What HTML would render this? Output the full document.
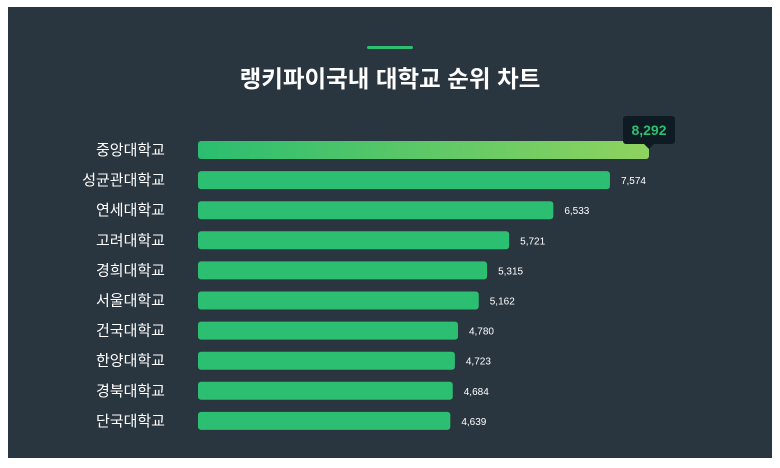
<!DOCTYPE html>
<html><head><meta charset="utf-8"><style>
body{margin:0;background:#fff;width:780px;height:468px;overflow:hidden}
svg{display:block}
text{font-family:"Liberation Sans","Noto Sans CJK KR",sans-serif}
</style></head><body>
<svg id="c" width="780" height="468">
<defs><linearGradient id="g" x1="0" x2="1"><stop offset="0" stop-color="#2bbd70"/><stop offset="1" stop-color="#8fd35f"/></linearGradient></defs>
<rect x="8" y="7" width="764" height="451" fill="#29353f"/>
<rect x="367" y="46" width="46" height="3" rx="1.5" fill="#2cbf72"/>
<text x="390" y="87" text-anchor="middle" fill="#fff" font-size="23.5" font-weight="bold">랭키파이국내 대학교 순위 차트</text>
<g id="bars"></g>
</svg>
<script>
const categories=["중앙대학교","성균관대학교","연세대학교","고려대학교","경희대학교","서울대학교","건국대학교","한양대학교","경북대학교","단국대학교"];
const values=[8292,7574,6533,5721,5315,5162,4780,4723,4684,4639];
const maxV=8292;
const x=v=>198+v*451/maxV;
const y=i=>150+i*30.1;
const g=document.getElementById('bars');
const NS='http://www.w3.org/2000/svg';
function mk(t,a){const e=document.createElementNS(NS,t);for(const k in a)e.setAttribute(k,a[k]);return e;}
categories.forEach((c,i)=>{
  const l=mk('text',{x:165,y:y(i)+5,'text-anchor':'end',fill:'#fff','font-size':15});
  l.textContent=c;
  
  
  g.appendChild(l);
  const b=mk('rect',{x:198,y:y(i)-9,width:x(values[i])-198,height:18,rx:3,fill:i===0?'url(#g)':'#2cbf72'});
  
  
  g.appendChild(b);
  const s=values[i].toLocaleString('en-US');
  if(i===0){
    const tx=x(values[i]);
    const tb=mk('rect',{x:tx-26,y:y(i)-34,width:52,height:28,rx:3,fill:'#0f1b22'});
    
    
    g.appendChild(tb);
    const tp=mk('path',{d:`M${tx-6} ${y(i)-7}l6 6l6 -6z`,fill:'#0f1b22'});
    
    
    g.appendChild(tp);
    const tt=mk('text',{x:tx,y:y(i)-15,'text-anchor':'middle',fill:'#2cbf72','font-size':14,'font-weight':'bold'});
    tt.textContent=s;
    
    
    g.appendChild(tt);
  } else {
    const v=mk('text',{x:x(values[i])+11,y:y(i)+4,fill:'#fff','font-size':10});
    v.textContent=s;
    
    
    g.appendChild(v);
  }
});
</script>
</body></html>
